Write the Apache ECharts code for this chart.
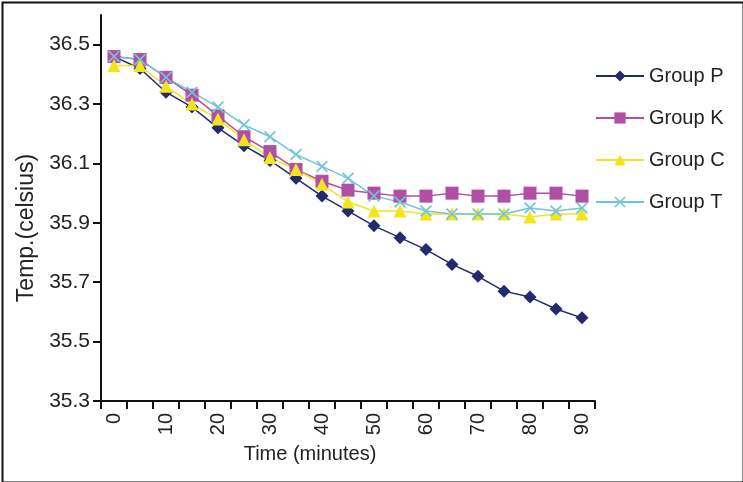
<!DOCTYPE html>
<html>
<head>
<meta charset="utf-8">
<script src="https://cdn.jsdelivr.net/npm/echarts@6/dist/echarts.min.js"></script>
<style>
html,body{margin:0;padding:0;background:#fff;}
#c{width:743px;height:482px;}
</style>
</head>
<body>
<div id="c"></div>
<script>
var times = [0,5,10,15,20,25,30,35,40,45,50,55,60,65,70,75,80,85,90];
var groupP = [36.46,36.42,36.34,36.29,36.22,36.16,36.11,36.05,35.99,35.94,35.89,35.85,35.81,35.76,35.72,35.67,35.65,35.61,35.58];
var groupK = [36.46,36.45,36.39,36.33,36.26,36.19,36.14,36.08,36.04,36.01,36.00,35.99,35.99,36.00,35.99,35.99,36.00,36.00,35.99];
var groupC = [36.43,36.43,36.36,36.30,36.25,36.18,36.12,36.08,36.03,35.97,35.94,35.94,35.93,35.93,35.93,35.93,35.92,35.93,35.93];
var groupT = [36.46,36.45,36.39,36.34,36.29,36.23,36.19,36.13,36.09,36.05,35.99,35.97,35.94,35.93,35.93,35.93,35.95,35.94,35.95];
var yTicks = [35.3,35.5,35.7,35.9,36.1,36.3,36.5];
var seriesNames = ['Group P','Group K','Group C','Group T'];

var FONT = '"Liberation Sans", Arial, sans-serif';
var crossPath = 'path://M0,1L1,0L5,4L9,0L10,1L6,5L10,9L9,10L5,6L1,10L0,9L4,5Z';

function mk(name, data, color, symbol, size) {
  return {
    name: name, type: 'line', data: data,
    symbol: symbol, symbolSize: size, showSymbol: true,
    lineStyle: {color: color, width: 1.5},
    itemStyle: {color: color},
    emphasis: {disabled: true},
    animation: false
  };
}

var chart = echarts.init(document.getElementById('c'), null, {renderer: 'canvas'});
chart.setOption({
  animation: false,
  backgroundColor: '#ffffff',
  textStyle: {fontFamily: FONT},
  grid: {left: 101, top: 15, width: 494, height: 386, containLabel: false},
  legend: {
    orient: 'vertical', left: 595, top: 66, padding: 0,
    itemWidth: 48, itemHeight: 14, itemGap: 22,
    textStyle: {fontFamily: FONT, fontSize: 20, color: '#222'},
    data: seriesNames
  },
  xAxis: {
    type: 'category', data: times, boundaryGap: true,
    name: 'Time (minutes)', nameLocation: 'middle', nameGap: 43,
    nameTextStyle: {fontFamily: FONT, fontSize: 20, color: '#222', padding: [0, 76, 0, 0]},
    axisLine: {lineStyle: {color: '#111', width: 2}},
    axisTick: {show: true, interval: 0, length: 8, lineStyle: {color: '#111', width: 2}},
    axisLabel: {interval: 1, rotate: 90, margin: 12, fontFamily: FONT, fontSize: 20, color: '#222'},
    splitLine: {show: false}
  },
  yAxis: {
    type: 'value', min: 35.3, max: 36.6,
    name: 'Temp.(celsius)', nameLocation: 'middle', nameGap: 63,
    nameTextStyle: {fontFamily: FONT, fontSize: 23, color: '#222', padding: [0, 40, 0, 0]},
    axisLine: {show: true, lineStyle: {color: '#111', width: 2}},
    axisTick: {show: true, length: 8, customValues: yTicks, lineStyle: {color: '#111', width: 2}},
    axisLabel: {customValues: yTicks, margin: 11, fontFamily: FONT, fontSize: 21, color: '#222',
      formatter: function(v){ return v.toFixed(1); }},
    splitLine: {show: false}
  },
  graphic: [{
    type: 'rect', left: 0, top: 0, z: 100, silent: true,
    shape: {x: 1, y: 1, width: 741, height: 480},
    style: {fill: null, stroke: '#111', lineWidth: 2}
  }],
  series: [
    mk('Group P', groupP, '#232a6e', 'diamond', 13),
    mk('Group K', groupK, '#b04fa3', 'rect', 13),
    mk('Group C', groupC, '#f2e520', 'triangle', 13),
    mk('Group T', groupT, '#70c6d8', crossPath, 12)
  ]
});
</script>
</body>
</html>
